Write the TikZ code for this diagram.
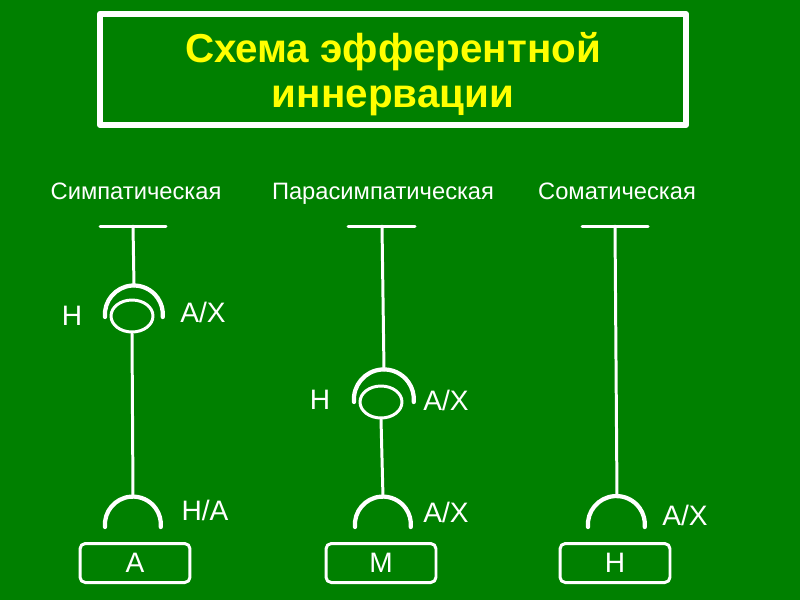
\documentclass[tikz,border=0pt]{standalone}
\usepackage{fontspec}
\setmainfont{Liberation Sans}
\usetikzlibrary{shapes.geometric}
\definecolor{slidegreen}{RGB}{0,128,0}
\definecolor{titleyellow}{RGB}{255,255,0}

\begin{document}
\begin{tikzpicture}[x=0.02cm, y=-0.02cm, line cap=round, line join=round,
	nerve/.style={draw=white, line width=1.7pt},
	synarc/.style={draw=white, line width=2.4pt},
	vesicle/.style={ellipse, draw=white, line width=1.7pt, minimum width=0.84cm, minimum height=0.64cm, inner sep=0pt},
	lbl/.style={text=white, font=\fontsize{16}{18}\selectfont},
	head/.style={text=white, anchor=base, font=\fontsize{13.5}{16}\selectfont},
	organ/.style={draw=white, line width=1.7pt, rounded corners=3pt, minimum width=2.2cm, minimum height=0.78cm, inner sep=0pt, text=white, font=\fontsize{16}{18}\selectfont}]
	
	% background
	\fill[slidegreen] (0,0) rectangle (800,600);
	\useasboundingbox (0,0) rectangle (800,600);
	
	% ===== Title =====
	\node[draw=white, line width=3.6pt, minimum width=11.72cm, minimum height=2.22cm] (titleBox) at (393,69.5) {};
	\node[text=titleyellow, font=\bfseries\fontsize{23}{26}\selectfont, align=center] (title) at (393,74) {Схема эфферентной\\иннервации};
	
	% ===== Left: sympathetic =====
	\begin{scope}
		\node[head] (hSym) at (136,199) {Симпатическая};
		\coordinate (sTl) at (100,226);
		\coordinate (sTr) at (166,226);
		\coordinate (sTop) at (133,226);
		\coordinate (sCap) at (134,286);
		\coordinate (sEnd) at (133,497);
		\draw[nerve] (sTl) -- (sTr);
		\draw[nerve] (sTop) -- (sCap);
		% ganglion synapse
		\draw[synarc] (105,317) arc[start angle=185, end angle=-5, radius=0.58cm];
		\node[vesicle] (sVes) at (132,316) {};
		\draw[nerve] (sVes.south) -- (sEnd);
		% effector synapse
		\draw[synarc] (105,527) arc[start angle=185, end angle=-5, radius=0.56cm];
		\node[lbl] (sN) at (72,316) {Н};
		\node[lbl] (sAX) at (203,312) {А/Х};
		\node[lbl] (sNA) at (205,510) {Н/А};
		\node[organ] (oA) at (135,563) {А};
	\end{scope}
	
	% ===== Middle: parasympathetic =====
	\begin{scope}
		\node[head] (hPar) at (383,199) {Парасимпатическая};
		\coordinate (pTl) at (348,226);
		\coordinate (pTr) at (415,226);
		\coordinate (pTop) at (382,226);
		\coordinate (pCap) at (384,370);
		\coordinate (pEnd) at (383,497);
		\draw[nerve] (pTl) -- (pTr);
		\draw[nerve] (pTop) -- (pCap);
		% ganglion synapse
		\draw[synarc] (354,402) arc[start angle=185, end angle=-5, radius=0.6cm];
		\node[vesicle] (pVes) at (381,402) {};
		\draw[nerve] (pVes.south) -- (pEnd);
		% effector synapse
		\draw[synarc] (355,527) arc[start angle=185, end angle=-5, radius=0.56cm];
		\node[lbl] (pN) at (320,400) {Н};
		\node[lbl] (pAX) at (446,400) {А/Х};
		\node[lbl] (pAXe) at (446,512) {А/Х};
		\node[organ] (oM) at (381,563) {М};
	\end{scope}
	
	% ===== Right: somatic =====
	\begin{scope}
		\node[head] (hSom) at (617,199) {Соматическая};
		\coordinate (mTl) at (582,226);
		\coordinate (mTr) at (648,226);
		\coordinate (mTop) at (615,226);
		\coordinate (mEnd) at (617,497);
		\draw[nerve] (mTl) -- (mTr);
		\draw[nerve] (mTop) -- (mEnd);
		% effector synapse
		\draw[synarc] (588,527) arc[start angle=185, end angle=-5, radius=0.57cm];
		\node[lbl] (mAX) at (685,515) {А/Х};
		\node[organ] (oN) at (615,563) {Н};
	\end{scope}
	
\end{tikzpicture}
\end{document}
